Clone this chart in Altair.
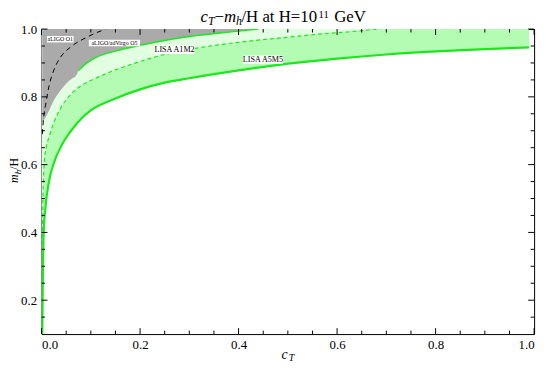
import altair as alt
import pandas as pd

# ---- data ----
# LISA A5M5 boundary (solid green)
c_solid = [0.0015, 0.0025, 0.004, 0.008, 0.015, 0.025, 0.04, 0.06, 0.08, 0.10, 0.15, 0.20,
           0.25, 0.30, 0.40, 0.50, 0.60, 0.70, 0.80, 0.90, 0.99]
m_solid = [0.10, 0.25, 0.39, 0.475, 0.55, 0.605, 0.655, 0.70, 0.735, 0.76, 0.795, 0.822,
           0.842, 0.855, 0.878, 0.898, 0.913, 0.925, 0.934, 0.941, 0.946]
# LISA A1M2 boundary (dashed green)
c_dashed = [0.001, 0.002, 0.004, 0.006, 0.01, 0.016, 0.025, 0.04, 0.06, 0.08, 0.10, 0.13,
            0.18, 0.25, 0.30, 0.40, 0.50, 0.57, 0.64, 0.68]
m_dashed = [0.20, 0.42, 0.56, 0.615, 0.655, 0.685, 0.725, 0.77, 0.808, 0.833, 0.848, 0.868,
            0.895, 0.925, 0.940, 0.961, 0.976, 0.986, 0.994, 1.0]
# aLIGO/adVirgo O5 region boundary (gray)
c_gray = [0.0015, 0.006, 0.012, 0.025, 0.04, 0.06, 0.07, 0.075, 0.09, 0.11, 0.15, 0.20,
          0.25, 0.31, 0.38, 0.44]
m_gray = [0.725, 0.735, 0.75, 0.79, 0.822, 0.852, 0.862, 0.878, 0.898, 0.916, 0.935, 0.952,
          0.966, 0.98, 0.991, 1.0]
# aLIGO O1 curve (black dashed)
c_black = [0.0015, 0.004, 0.009, 0.015, 0.025, 0.039, 0.059, 0.092, 0.13]
m_black = [0.69, 0.735, 0.783, 0.831, 0.879, 0.918, 0.947, 0.976, 1.0]

label_text = ["aLIGO O1", "aLIGO/adVirgo O5", "LISA A1M2", "LISA A5M5"]
label_c = [0.038, 0.148, 0.27, 0.4495]
label_m = [0.970, 0.959, 0.939, 0.910]

x_major = [0.0, 0.2, 0.4, 0.6, 0.8, 1.0]
x_minor = [0.05, 0.1, 0.15, 0.25, 0.3, 0.35, 0.45, 0.5, 0.55, 0.65, 0.7, 0.75, 0.85, 0.9, 0.95]
y_major = [0.2, 0.4, 0.6, 0.8, 1.0]
y_minor = [0.15, 0.25, 0.3, 0.35, 0.45, 0.5, 0.55, 0.65, 0.7, 0.75, 0.85, 0.9, 0.95]

W, H = 499, 309
SERIF = "Liberation Serif"
LIGHT = "#b4fcb4"
PALE = "#e2ffe2"
GRAY = "#aaaaaa"
LINE = "#1be81b"

xs = alt.Scale(domain=[0, 1], nice=False, zero=False)
ys = alt.Scale(domain=[0.1, 1.0], nice=False, zero=False)
xaxis = alt.Axis(values=x_major, format=".1f", title=None, ticks=False, domain=False, grid=False,
                 labelFont=SERIF, labelFontSize=13, labelPadding=5, labelColor="black")
yaxis = alt.Axis(values=y_major, format=".1f", title=None, ticks=False, domain=False, grid=False,
                 labelFont=SERIF, labelFontSize=13, labelPadding=5, labelColor="black")


def X(f):
    return alt.X(f + ":Q", scale=xs, axis=xaxis)


def Y(f):
    return alt.Y(f + ":Q", scale=ys, axis=yaxis)


df_s = pd.DataFrame({"c": c_solid, "m": m_solid})
df_d = pd.DataFrame({"c": c_dashed, "m": m_dashed})
df_g = pd.DataFrame({"c": c_gray, "m": m_gray})
df_gl = df_g[df_g["c"] >= 0.072]
df_b = pd.DataFrame({"c": c_black, "m": m_black})

area_s = alt.Chart(df_s).mark_area(color=LIGHT, opacity=1, interpolate="monotone", clip=True).encode(
    x=X("c"), y=Y("m"), y2=alt.datum(1.0))
area_d = alt.Chart(df_d).mark_area(color=PALE, opacity=1, interpolate="monotone", clip=True).encode(
    x=X("c"), y=Y("m"), y2=alt.datum(1.0))
area_g = alt.Chart(df_g).mark_area(color=GRAY, opacity=1, interpolate="monotone", clip=True).encode(
    x=X("c"), y=Y("m"), y2=alt.datum(1.0))

line_gl = alt.Chart(df_gl).mark_line(color=LINE, strokeWidth=1.5, interpolate="monotone", clip=True).encode(
    x=X("c"), y=Y("m"))
line_b = alt.Chart(df_b).mark_line(color="black", strokeWidth=1, strokeDash=[5, 4], interpolate="monotone", clip=True).encode(
    x=X("c"), y=Y("m"))
line_d = alt.Chart(df_d).mark_line(color=LINE, strokeWidth=1.2, strokeDash=[4, 3], interpolate="monotone", clip=True).encode(
    x=X("c"), y=Y("m"))
line_s = alt.Chart(df_s).mark_line(color=LINE, strokeWidth=2.2, interpolate="monotone", clip=True).encode(
    x=X("c"), y=Y("m"))

# labels with white boxes
df_lab = pd.DataFrame({"t": label_text, "c": label_c, "m": label_m})
small = df_lab.iloc[:2]
big = df_lab.iloc[2:]
layers_lab = []
for df_part, fs, bh, pad in [(small, 6.0, 6.5, 1), (big, 8.2, 8.5, 1)]:
    for _, r in df_part.iterrows():
        w = len(r["t"]) * fs * 0.52 + 2 * pad
        one = pd.DataFrame({"t": [r["t"]], "c": [r["c"]], "m": [r["m"]]})
        layers_lab.append(alt.Chart(one).mark_rect(color="white", width=w, height=bh).encode(
            x=X("c"), y=Y("m")))
        layers_lab.append(alt.Chart(one).mark_text(font=SERIF, fontSize=fs, color="black",
                                                   align="center", baseline="middle").encode(
            x=X("c"), y=Y("m"), text="t:N"))

# inward ticks on all four sides
def xticks(vals, L):
    d = pd.DataFrame({"t": vals})
    b = alt.Chart(d).mark_rule(color="black", strokeWidth=1).encode(x=X("t"), y=alt.value(H), y2=alt.value(H - L))
    t = alt.Chart(d).mark_rule(color="black", strokeWidth=1).encode(x=X("t"), y=alt.value(0), y2=alt.value(L))
    return [b, t]


def yticks(vals, L):
    d = pd.DataFrame({"t": vals})
    l = alt.Chart(d).mark_rule(color="black", strokeWidth=1).encode(y=Y("t"), x=alt.value(0), x2=alt.value(L))
    r = alt.Chart(d).mark_rule(color="black", strokeWidth=1).encode(y=Y("t"), x=alt.value(W), x2=alt.value(W - L))
    return [l, r]


ticks = xticks(x_major, 6) + xticks(x_minor, 3.5) + yticks(y_major, 6) + yticks(y_minor, 3.5)


def txt(s, x, y, size, italic=False, angle=0):
    return alt.Chart(pd.DataFrame({"s": [s]})).mark_text(
        text=s, font=SERIF, fontSize=size, fontStyle="italic" if italic else "normal",
        align="left", baseline="alphabetic", angle=angle, color="black").encode(
        x=alt.value(x), y=alt.value(y))


TB = -7.5
title_parts = [
    txt("c", 161, TB, 17, True),
    txt("T", 168.5, TB + 3, 12, True),
    txt("\u2212", 175.2, TB, 17),
    txt("m", 184.8, TB, 17, True),
    txt("h", 197.1, TB + 3, 12, True),
    txt("/H at H=10", 202.5, TB, 17),
    txt("11", 280.5, TB - 4, 11),
    txt("GeV", 296.5, TB, 17),
]
xtitle = [txt("c", 243, 334, 14, True), txt("T", 250.5, 336.5, 10, True)]
ytitle = [txt("m", -23.5, 156, 12, True, 270),
          txt("h", -21, 147, 9, True, 270),
          txt("/H", -23.5, 142.5, 12, False, 270)]

chart = alt.layer(
    area_s, area_d, area_g, line_gl, line_b, line_d, line_s,
    *layers_lab, *ticks, *title_parts, *xtitle, *ytitle
).properties(
    width=W, height=H,
    padding={"left": 34, "top": 19, "right": 8, "bottom": 31},
    autosize=alt.AutoSizeParams(type="none"),
).configure_view(stroke="black", strokeWidth=1)

chart.save("out.html", embed_options={"renderer": "svg", "actions": False})
